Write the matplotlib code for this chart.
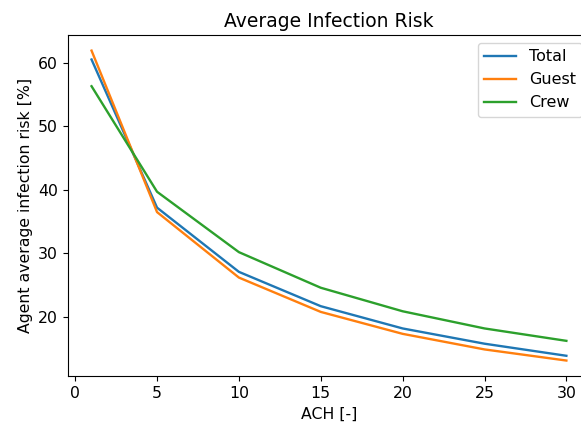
import matplotlib
matplotlib.use("Agg")
import matplotlib.pyplot as plt

ach = [1, 5, 10, 15, 20, 25, 30]
total = [60.5, 37.2, 27.1, 21.7, 18.2, 15.8, 13.9]
guest = [61.9, 36.5, 26.2, 20.8, 17.35, 14.9, 13.15]
crew = [56.3, 39.7, 30.2, 24.6, 20.9, 18.2, 16.25]

fig = plt.figure(figsize=(5.81, 4.23), dpi=100)
ax = fig.add_axes([0.1167, 0.111, 0.899, 0.806])
lw = 1.7
ax.plot(ach, total, label="Total", lw=lw)
ax.plot(ach, guest, label="Guest", lw=lw)
ax.plot(ach, crew, label="Crew", lw=lw)
ax.set_title("Average Infection Risk", fontsize=13.5)
ax.set_xlabel("ACH [-]", fontsize=11.3)
ax.set_ylabel("Agent average infection risk [%]", fontsize=11.3)
ax.tick_params(labelsize=11.3)
ax.legend(loc="upper right", fontsize=11.5)
fig.savefig("out.png", dpi=100)
